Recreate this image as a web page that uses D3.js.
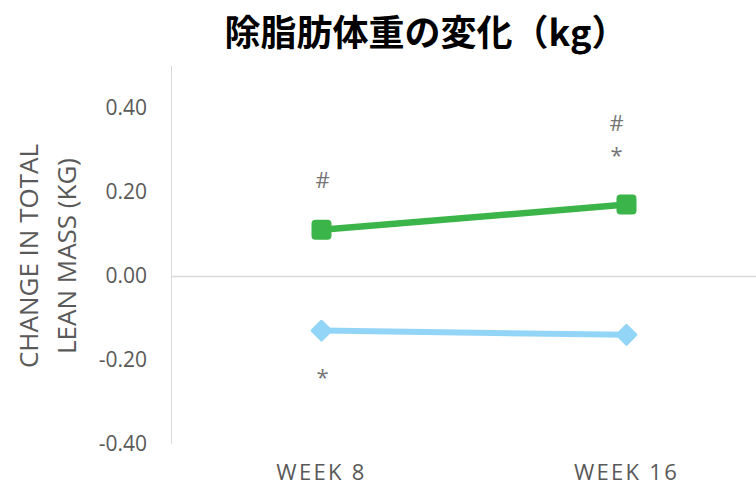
<!DOCTYPE html>
<html>
<head>
<meta charset="utf-8">
<script src="https://cdn.jsdelivr.net/npm/d3@7"></script>
<style>
  body { margin: 0; background: #fff; }
  svg { display: block; font-family: "Open Sans", "Noto Sans", sans-serif; }
</style>
</head>
<body>
<div id="chart"></div>
<script>
var weeks = ["WEEK 8", "WEEK 16"];
var greenVals = [0.11, 0.17];
var blueVals = [-0.13, -0.14];
var yTicks = [-0.4, -0.2, 0, 0.2, 0.4];
// annotation marks: [week index, value, text]
var notes = [[0, 0.229, "#"], [1, 0.364, "#"], [1, 0.287, "*"], [0, -0.241, "*"]];

var width = 756, height = 487;
var svg = d3.select("#chart").append("svg")
    .attr("width", width)
    .attr("height", height);

var x = d3.scalePoint().domain(weeks).range([169, 779]).padding(0.5);
var y = d3.scaleLinear().domain([-0.4, 0.5]).range([444, 66]);

svg.append("text")
    .attr("x", 426).attr("y", 46)
    .attr("text-anchor", "middle")
    .style("font-family", "'Noto Sans CJK JP', sans-serif")
    .style("font-weight", "bold")
    .style("font-size", "36px")
    .attr("fill", "#000")
    .text("除脂肪体重の変化（kg）");

// axis line and zero line
svg.append("line")
    .attr("x1", 171.5).attr("x2", 171.5)
    .attr("y1", y(0.5)).attr("y2", y(-0.4))
    .attr("stroke", "#d9d9d9").attr("stroke-width", 1);
svg.append("line")
    .attr("x1", 171).attr("x2", width)
    .attr("y1", Math.round(y(0)) + 0.5).attr("y2", Math.round(y(0)) + 0.5)
    .attr("stroke", "#d9d9d9").attr("stroke-width", 1.5);

svg.append("g").selectAll("text")
  .data(yTicks).enter().append("text")
    .attr("x", 147).attr("y", d => y(d))
    .attr("dy", "0.35em")
    .attr("text-anchor", "end")
    .attr("fill", "#595959")
    .style("font-size", "21px")
    .text(d => d3.format(".2f")(d).replace("−", "-"));

svg.append("g").selectAll("text")
  .data(weeks).enter().append("text")
    .attr("x", d => x(d)).attr("y", 480)
    .attr("text-anchor", "middle")
    .attr("fill", "#595959")
    .style("font-size", "22px")
    .style("letter-spacing", "2.3px")
    .text(d => d);

var yt = svg.append("text")
    .attr("transform", "translate(48,256) rotate(-90)")
    .attr("text-anchor", "middle")
    .attr("fill", "#595959")
    .style("font-size", "26px");
yt.append("tspan").attr("x", 0).attr("dy", "-0.38em").text("CHANGE IN TOTAL");
yt.append("tspan").attr("x", 0).attr("dy", "1.46em").text("LEAN MASS (KG)");

var line = d3.line().x((d, i) => x(weeks[i])).y(d => y(d));

svg.append("path").datum(blueVals)
    .attr("d", line).attr("fill", "none")
    .attr("stroke", "#92d5f7").attr("stroke-width", 6);
svg.append("g").selectAll("path")
  .data(blueVals).enter().append("path")
    .attr("d", d3.symbol(d3.symbolSquare, 175))
    .attr("transform", (d, i) => `translate(${x(weeks[i])},${y(d)}) rotate(45)`)
    .attr("fill", "#92d5f7").attr("stroke", "#92d5f7")
    .attr("stroke-width", 3).attr("stroke-linejoin", "round");

svg.append("path").datum(greenVals)
    .attr("d", line).attr("fill", "none")
    .attr("stroke", "#3bb54a").attr("stroke-width", 6.5);
svg.append("g").selectAll("rect")
  .data(greenVals).enter().append("rect")
    .attr("x", (d, i) => x(weeks[i]) - 10)
    .attr("y", d => y(d) - 10)
    .attr("width", 20).attr("height", 20).attr("rx", 4)
    .attr("fill", "#3bb54a");

svg.append("g").selectAll("text")
  .data(notes).enter().append("text")
    .attr("x", d => x(weeks[d[0]]) + (d[0] === 1 ? -10 : 1))
    .attr("y", d => y(d[1]))
    .attr("dy", "0.35em")
    .attr("text-anchor", "middle")
    .attr("fill", "#767676")
    .style("font-size", "22px")
    .text(d => d[2]);
</script>
</body>
</html>
